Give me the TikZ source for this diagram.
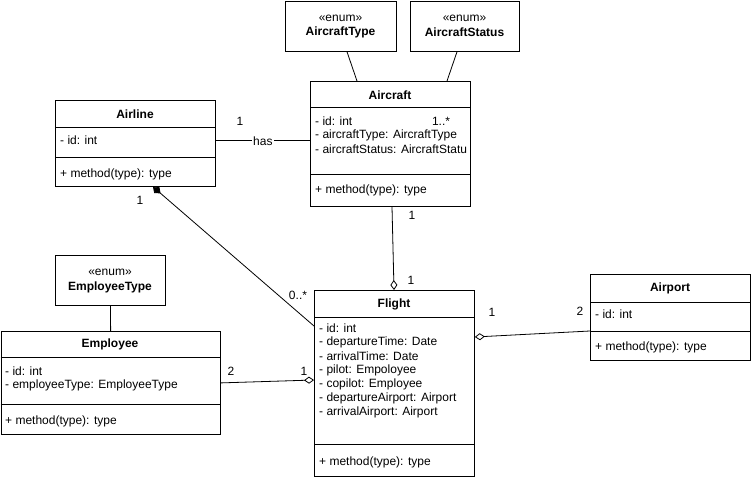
\documentclass[tikz,border=0pt]{standalone}
\usepackage{fontspec}
\setmainfont{Liberation Sans}
\usetikzlibrary{arrows.meta}
\tikzset{
  every node/.style={font=\fontsize{12}{14}\selectfont, inner sep=0pt},
  umlbox/.style={draw, line width=0.8pt, anchor=north west, inner sep=0pt, fill=white},
  ttl/.style={font=\bfseries\fontsize{12}{14}\selectfont},
  attr/.style={anchor=west},
  conn/.style={line width=0.8pt},
  sep/.style={line width=0.8pt},
}
\begin{document}
\begin{tikzpicture}[x=1pt,y=-1pt]
\useasboundingbox (0,0) rectangle (751,478);
% enum boxes
\node[umlbox, minimum width=111pt, minimum height=50pt] (atype) at (285,1) {};
\node (atypeS) at (340.5,18) {«enum»};
\node[ttl] (atypeN) at (340.5,32) {AircraftType};
\node[umlbox, minimum width=109pt, minimum height=50pt] (astat) at (410,1) {};
\node (astatS) at (464.5,18) {«enum»};
\node[ttl] (astatN) at (464.5,32) {AircraftStatus};
\node[umlbox, minimum width=110pt, minimum height=50pt] (etype) at (55,255) {};
\node (etypeS) at (110,272) {«enum»};
\node[ttl] (etypeN) at (110,287) {EmployeeType};
% Aircraft
\node[umlbox, minimum width=160pt, minimum height=125pt] (aircraft) at (310,81) {};
\draw[sep] ([yshift=-26pt]aircraft.north west) -- ([yshift=-26pt]aircraft.north east);
\draw[sep] ([yshift=-93pt]aircraft.north west) -- ([yshift=-93pt]aircraft.north east);
\node[ttl] (aircraftT) at (390,95) {Aircraft};
\node[attr] (aircraftA1) at (315,121) {- id: int};
\node[attr] (aircraftA2) at (315,135) {- aircraftType: AircraftType};
\node[attr] (aircraftA3) at (315,149) {- aircraftStatus: AircraftStatu};
\node[attr] (aircraftM) at (315,190) {+ method(type): type};
% Airline
\node[umlbox, minimum width=160pt, minimum height=86pt] (airline) at (55,100) {};
\draw[sep] ([yshift=-27pt]airline.north west) -- ([yshift=-27pt]airline.north east);
\draw[sep] ([yshift=-57pt]airline.north west) -- ([yshift=-57pt]airline.north east);
\node[ttl] (airlineT) at (135,114) {Airline};
\node[attr] (airlineA1) at (60,140) {- id: int};
\node[attr] (airlineM) at (60,174) {+ method(type): type};
% Employee
\node[umlbox, minimum width=219.5pt, minimum height=103pt] (employee) at (0.5,331) {};
\draw[sep] ([yshift=-26pt]employee.north west) -- ([yshift=-26pt]employee.north east);
\draw[sep] ([yshift=-73pt]employee.north west) -- ([yshift=-73pt]employee.north east);
\node[ttl] (employeeT) at (110,344) {Employee};
\node[attr] (employeeA1) at (5,371) {- id: int};
\node[attr] (employeeA2) at (5,385) {- employeeType: EmployeeType};
\node[attr] (employeeM) at (5,421) {+ method(type): type};
% Flight
\node[umlbox, minimum width=160pt, minimum height=186pt] (flight) at (314,290) {};
\draw[sep] ([yshift=-27pt]flight.north west) -- ([yshift=-27pt]flight.north east);
\draw[sep] ([yshift=-154pt]flight.north west) -- ([yshift=-154pt]flight.north east);
\node[ttl] (flightT) at (394,304) {Flight};
\node[attr] (flightA1) at (319,328) {- id: int};
\node[attr] (flightA2) at (319,342) {- departureTime: Date};
\node[attr] (flightA3) at (319,356) {- arrivalTime: Date};
\node[attr] (flightA4) at (319,370) {- pilot: Empoloyee};
\node[attr] (flightA5) at (319,384) {- copilot: Employee};
\node[attr] (flightA6) at (319,398) {- departureAirport: Airport};
\node[attr] (flightA7) at (319,412) {- arrivalAirport: Airport};
\node[attr] (flightM) at (319,462) {+ method(type): type};
% Airport
\node[umlbox, minimum width=160pt, minimum height=86pt] (airport) at (590,274) {};
\draw[sep] ([yshift=-28pt]airport.north west) -- ([yshift=-28pt]airport.north east);
\draw[sep] ([yshift=-57pt]airport.north west) -- ([yshift=-57pt]airport.north east);
\node[ttl] (airportT) at (670,288) {Airport};
\node[attr] (airportA1) at (595,314) {- id: int};
\node[attr] (airportM) at (595,347) {+ method(type): type};
% connectors
\draw[conn] ([xshift=62pt]atype.south west) -- ([xshift=47pt]aircraft.north west);
\draw[conn] ([xshift=47pt]astat.south west) -- ([xshift=137pt]aircraft.north west);
\draw[conn] (etype.south) -- (employee.north);
\draw[conn] ([yshift=-40pt]airline.north east) -- node[fill=white, inner sep=1pt, yshift=-1pt] (has) {has} ([yshift=-59pt]aircraft.north west);
\draw[conn, {Diamond[length=10pt,width=8pt]}-] ([xshift=98pt]airline.south west) -- ([yshift=-36pt]flight.north west);
\draw[conn, -{Diamond[open,length=10pt,width=7pt]}] ([xshift=82pt]aircraft.south west) -- ([xshift=80pt]flight.north west);
\draw[conn, -{Diamond[open,length=10pt,width=7pt]}] (employee.east) -- ([yshift=-90pt]flight.north west);
\draw[conn, {Diamond[open,length=10pt,width=7pt]}-] ([yshift=-47pt]flight.north east) -- ([yshift=-57pt]airport.north west);
% multiplicities
\node (m1) at (240,121) {1};
\node (m2) at (441,121) {1..*};
\node (m3) at (140,200) {1};
\node (m4) at (298,295) {0..*};
\node (m5) at (412,215) {1};
\node (m6) at (411,280) {1};
\node (m7) at (492,312) {1};
\node (m8) at (580,311) {2};
\node (m9) at (231,371) {2};
\node (m10) at (304,371) {1};
\end{tikzpicture}
\end{document}
